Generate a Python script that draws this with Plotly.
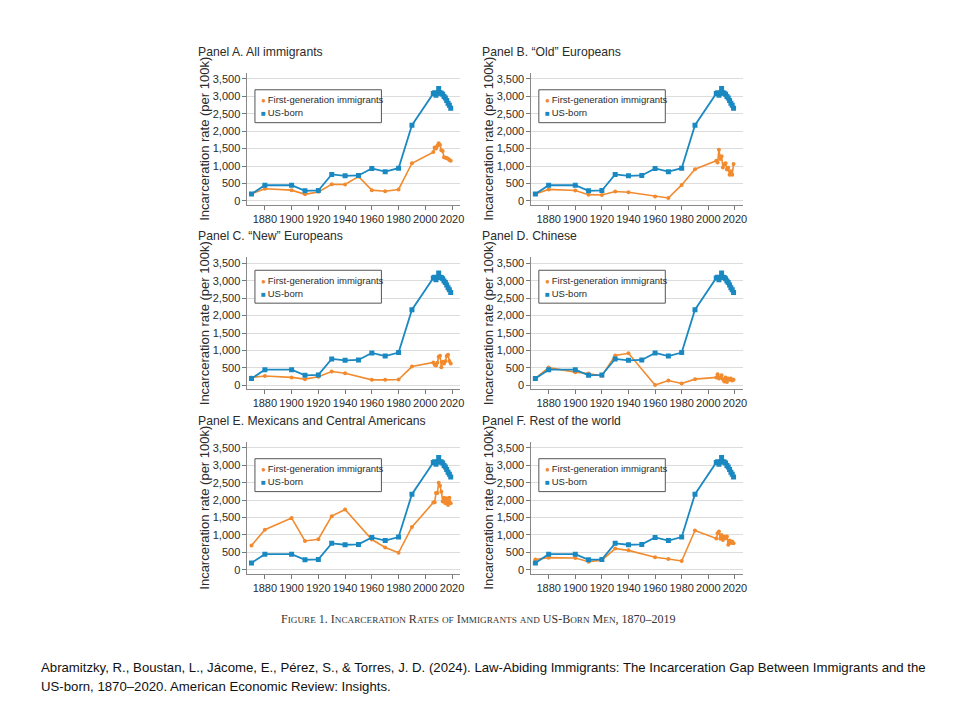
import plotly.graph_objects as go

# ---------------- data ----------------
years = [1870, 1880, 1900, 1910, 1920, 1930, 1940, 1950, 1960, 1970, 1980, 1990,
         2006, 2007, 2008, 2009, 2010, 2011, 2012, 2013, 2014, 2015, 2016, 2017, 2018, 2019]

us_born = [200, 450, 450, 290, 300, 760, 720, 730, 930, 840, 940, 2170,
           3080, 3100, 3030, 3090, 3220, 3100, 3090, 3060, 2990, 2950, 2880, 2800, 2740, 2660]

fg_all = [200, 350, 310, 190, 260, 480, 470, 700, 310, 280, 330, 1080,
          1400, 1530, 1500, 1580, 1650, 1600, 1450, 1430, 1250, 1240, 1230, 1210, 1170, 1150]
fg_old_eur = [200, 330, 300, 180, 170, 270, 250, None, 130, 85, 460, 910,
              1150, 1100, 1470, 1200, 1280, 960, 1050, 1080, 900, 950, 750, 850, 750, 1060]
fg_new_eur = [230, 270, 230, 180, 250, 400, 350, None, 160, 160, 170, 540,
              660, 590, 570, 650, 820, 850, 520, 680, 630, 690, 840, 880, 700, 630]
fg_chinese = [200, 510, 380, 340, 270, 860, 920, None, 10, 140, 55, 180,
              230, 320, 200, 230, 290, 180, 110, 230, 100, 200, 160, 200, 140, 160]
fg_mexican = [700, 1150, 1490, 830, 880, 1540, 1730, None, 870, 640, 490, 1230,
              1930, 1940, 2200, 2200, 2500, 2410, 2240, 1960, 2070, 1910, 2050, 1860, 2070, 1910]
fg_rest = [300, 350, 340, 235, 280, 610, 560, None, 360, 310, 255, 1130,
           900, 1050, 1100, 890, 1000, 860, 960, 910, 960, 720, 840, 770, 815, 760]

panel_titles = ["Panel A. All immigrants", "Panel B. \u201cOld\u201d Europeans",
                "Panel C. \u201cNew\u201d Europeans", "Panel D. Chinese",
                "Panel E. Mexicans and Central Americans", "Panel F. Rest of the world"]
first_gen_series = [fg_all, fg_old_eur, fg_new_eur, fg_chinese, fg_mexican, fg_rest]

y_ticks = [0, 500, 1000, 1500, 2000, 2500, 3000, 3500]
x_ticks = [1880, 1900, 1920, 1940, 1960, 1980, 2000, 2020]

series_names = ["First-generation immigrants", "US-born"]
y_title = "Incarceration rate (per 100k)"
caption = "Figure 1. Incarceration Rates of Immigrants and US-Born Men, 1870\u20132019"
citation_1 = ("Abramitzky, R., Boustan, L., J\u00e1come, E., P\u00e9rez, S., & Torres, J. D. (2024). "
              "Law-Abiding Immigrants: The Incarceration Gap Between Immigrants and the")
citation_2 = "US-born, 1870\u20132020. American Economic Review: Insights."

# ---------------- style ----------------
OFF = 8                      # default page body margin
W, H = 960 - 2 * OFF, 720 - 2 * OFF
ORANGE = "#F28A2E"
BLUE = "#1A89C2"
TXT = "#2b2b2b"
SANS = "Liberation Sans, Arial, sans-serif"


def fx(px):
    return (px - OFF) / W


def fy(py):
    return 1 - (py - OFF) / H


# panel geometry in window pixels
cols = [(248.5, 462.0), (533.6, 746.0)]
rows = [(73.0, 205.2), (258.0, 390.2), (443.0, 575.2)]
x_range = [1867, 2026]
y_range = [-106, 3672]

fig = go.Figure()
layout = dict(
    width=W, height=H,
    margin=dict(l=0, r=0, t=0, b=0),
    paper_bgcolor="white", plot_bgcolor="white",
    showlegend=False,
    font=dict(family=SANS, color=TXT),
)
annotations = []
shapes = []

for i in range(6):
    r, c = divmod(i, 2)
    sfx = "" if i == 0 else str(i + 1)
    xa, ya = "x" + sfx, "y" + sfx
    (l, rr), (t, b) = cols[c], rows[r]

    layout["xaxis" + sfx] = dict(
        domain=[fx(l), fx(rr)], anchor=ya, range=x_range,
        tickvals=x_ticks, ticks="outside", ticklen=4, tickcolor="#777",
        showline=True, linecolor="#888", linewidth=1, showgrid=False, zeroline=False,
        tickfont=dict(size=11, color=TXT, family=SANS),
    )
    layout["yaxis" + sfx] = dict(
        domain=[fy(b), fy(t)], anchor=xa, range=y_range,
        tickvals=y_ticks, tickformat=",d", ticks="outside", ticklen=4, tickcolor="#777",
        showline=True, linecolor="#888", linewidth=1,
        showgrid=True, gridcolor="#dcdcdc", gridwidth=1, zeroline=False,
        tickfont=dict(size=11, color=TXT, family=SANS),
        title=dict(text=y_title, font=dict(size=13, color=TXT, family=SANS), standoff=0),
    )

    fig.add_trace(go.Scatter(
        x=years, y=first_gen_series[i], mode="lines+markers", connectgaps=True,
        name=series_names[0], xaxis=xa, yaxis=ya,
        line=dict(color=ORANGE, width=1.6),
        marker=dict(symbol="circle", size=4, color=ORANGE),
    ))
    fig.add_trace(go.Scatter(
        x=years, y=us_born, mode="lines+markers",
        name=series_names[1], xaxis=xa, yaxis=ya,
        line=dict(color=BLUE, width=1.8),
        marker=dict(symbol="square", size=5, color=BLUE),
    ))

    # panel title
    annotations.append(dict(
        text=panel_titles[i], xref="paper", yref="paper",
        x=fx(l - 52), y=fy(t - 21), xanchor="left", yanchor="middle",
        showarrow=False, font=dict(size=12.2, color=TXT, family=SANS),
    ))

    # legend box
    lx0, ly0 = l + 7.5, t + (17 if r != 1 else 13)
    lx1, ly1 = lx0 + 127, ly0 + 33
    shapes.append(dict(type="rect", xref="paper", yref="paper",
                       x0=fx(lx0), x1=fx(lx1), y0=fy(ly1), y1=fy(ly0),
                       line=dict(color="#555", width=1), fillcolor="white", layer="above"))
    for k, (nm, col, glyph) in enumerate([(series_names[0], ORANGE, "\u25CF"),
                                          (series_names[1], BLUE, "\u25A0")]):
        annotations.append(dict(
            text=f"<span style='color:{col};font-size:8px'>{glyph}</span>\u2009{nm}",
            xref="paper", yref="paper", x=fx(lx0 + 4), y=fy(ly0 + 10 + 13 * k),
            xanchor="left", yanchor="middle", showarrow=False,
            font=dict(size=9.5, color=TXT, family=SANS),
        ))


def small_caps(s, big=12, small=9.2):
    out = []
    for ch in s:
        if ch.islower():
            out.append(f"<span style='font-size:{small}px'>{ch.upper()}</span>")
        else:
            out.append(f"<span style='font-size:{big}px'>{ch}</span>")
    return "".join(out)


annotations.append(dict(
    text=small_caps(caption), xref="paper", yref="paper",
    x=fx(480), y=fy(621), xanchor="center", yanchor="middle", showarrow=False,
    font=dict(family="Liberation Serif, Times New Roman, serif", color="#333", size=12),
))
for k, line in enumerate([citation_1, citation_2]):
    annotations.append(dict(
        text=line, xref="paper", yref="paper",
        x=fx(39), y=fy(669 + 19 * k), xanchor="left", yanchor="middle", showarrow=False,
        font=dict(family=SANS, color="#111", size=13.2),
    ))

layout["annotations"] = annotations
layout["shapes"] = shapes
fig.update_layout(**layout)
fig.write_html("out.html")
